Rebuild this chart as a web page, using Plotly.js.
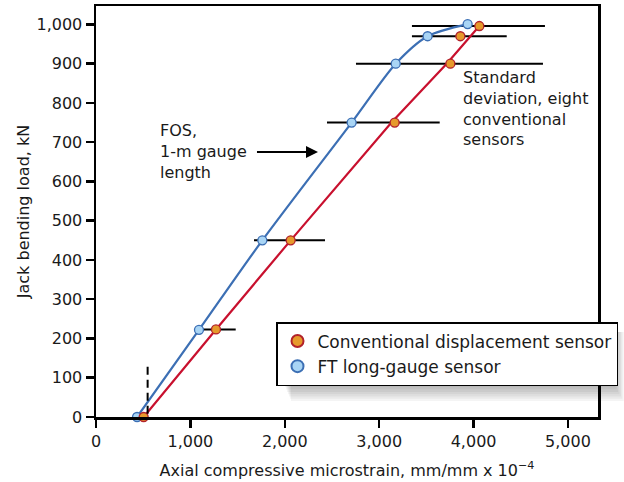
<!DOCTYPE html>
<html>
<head>
<meta charset="utf-8">
<script src="https://cdn.plot.ly/plotly-3.0.1.min.js"></script>
<style>html,body{margin:0;padding:0;background:#fff;}#chart{width:624px;height:482px;}</style>
</head>
<body>
<div id="chart"></div>
<script>
// FT long-gauge sensor (blue)
var ftX = [435, 1091, 1762, 2708, 3175, 3513, 3937];
var ftY = [0, 222, 450, 750, 900, 970, 1001];
// Conventional displacement sensor (orange markers)
var convX = [505, 1271, 2062, 3164, 3754, 3860, 4061];
var convY = [0, 223, 450, 750, 900, 970, 996];
// Fitted red line for conventional sensor
var convFitX = [505, 1271, 2062, 3130, 3715, 4061];
var convFitY = [0, 223, 450, 750, 900, 996];
// Standard deviation extents (eight conventional sensors)
var sdLow  = [null, 1095, 1674, 2447, 2754, 3347, 3347];
var sdHigh = [null, 1480, 2426, 3641, 4735, 4351, 4756];

var xTicks = [0, 1000, 2000, 3000, 4000, 5000];
var yTicks = [0, 100, 200, 300, 400, 500, 600, 700, 800, 900, 1000];

var FONT = "DejaVu Sans, Liberation Sans, sans-serif";
var TXT = "#1a1a1a";
var BLUE = "#3c6fb4", BLUE_FILL = "#a9d5f5";
var RED = "#c8102e", ORANGE_FILL = "#e69a2c", ORANGE_EDGE = "#b2222a";

var plus = convX.map(function(x, i){ return sdHigh[i] == null ? 0 : sdHigh[i] - x; });
var minus = convX.map(function(x, i){ return sdLow[i] == null ? 0 : x - sdLow[i]; });

var traces = [
  { x: convX, y: convY, mode: "markers", marker: {opacity: 0, size: 1},
    error_x: {type: "data", symmetric: false, array: plus, arrayminus: minus,
              color: "#000", thickness: 2, width: 0},
    showlegend: false, hoverinfo: "skip", cliponaxis: false },
  { x: convFitX, y: convFitY, mode: "lines", line: {color: RED, width: 2.2},
    showlegend: false, hoverinfo: "skip", cliponaxis: false },
  { x: ftX, y: ftY, mode: "lines", line: {color: BLUE, width: 2.2, shape: "spline", smoothing: 0.8},
    showlegend: false, hoverinfo: "skip", cliponaxis: false },
  { x: ftX, y: ftY, mode: "markers", name: "FT long-gauge sensor", legendrank: 2, legendgroup: "ft",
    marker: {size: 9, color: BLUE_FILL, line: {color: BLUE, width: 1.3}}, cliponaxis: false },
  { x: convX, y: convY, mode: "markers", name: "Conventional displacement sensor", legendrank: 1, legendgroup: "conv",
    marker: {size: 9, color: ORANGE_FILL, line: {color: ORANGE_EDGE, width: 1.3}}, cliponaxis: false }
];

function px2paperX(p){ return (p - 96) / 502; }
function px2paperY(p){ return (417 - p) / 411; }

var shadows = [];
for (var i = 1; i <= 7; i++) {
  shadows.push({type: "rect", xref: "paper", yref: "paper", layer: "above",
    x0: px2paperX(284 + i), x1: px2paperX(614 + i*1.4),
    y0: px2paperY(385 + i*2.3), y1: px2paperY(332),
    fillcolor: "rgba(0,0,0,0.045)", line: {width: 0}});
}

var layout = {
  width: 624, height: 482,
  margin: {l: 96, r: 26, t: 6, b: 65},
  paper_bgcolor: "#fff", plot_bgcolor: "#fff",
  font: {family: FONT, size: 16, color: TXT},
  xaxis: {range: [0, 5318], tickvals: xTicks, tickformat: ",d",
    showgrid: false, zeroline: false, showline: true, linecolor: "#000", linewidth: 2.5,
    mirror: true, ticks: "outside", ticklen: 8, tickwidth: 2.5, tickcolor: "#000",
    tickfont: {size: 16, family: FONT, color: TXT},
    title: {text: "Axial compressive microstrain, mm/mm x 10<sup>−4</sup>", standoff: 15,
            font: {size: 16, family: FONT, color: TXT}}},
  yaxis: {range: [0, 1047], tickvals: yTicks, tickformat: ",d",
    showgrid: false, zeroline: false, showline: true, linecolor: "#000", linewidth: 2.5,
    mirror: true, ticks: "outside", ticklen: 8, tickwidth: 2.5, tickcolor: "#000",
    tickfont: {size: 16, family: FONT, color: TXT},
    title: {text: "Jack bending load, kN", standoff: 3,
            font: {size: 16, family: FONT, color: TXT}}},
  legend: {x: px2paperX(276), y: px2paperY(322), xanchor: "left", yanchor: "top",
    bgcolor: "#fff", bordercolor: "#000", borderwidth: 1.5,
    font: {size: 17, family: FONT, color: TXT}, itemsizing: "constant",
    tracegroupgap: 0, traceorder: "grouped"},
  shapes: shadows.concat([
    {type: "line", xref: "x", yref: "y", x0: 547, x1: 547, y0: 8, y1: 140,
     line: {color: "#000", width: 2, dash: "8px,5px"}}
  ]),
  annotations: [
    {xref: "x", yref: "y", x: 657, y: 760, xanchor: "left", yanchor: "top", align: "left",
     showarrow: false, text: "FOS,<br>1-m gauge<br>length",
     font: {size: 16, family: FONT, color: TXT}},
    {xref: "x", yref: "y", axref: "x", ayref: "y", x: 2352, y: 675, ax: 1663, ay: 675,
     showarrow: true, arrowhead: 2, arrowsize: 1.2, arrowwidth: 2, arrowcolor: "#000", text: " "},
    {xref: "x", yref: "y", x: 3867, y: 894, xanchor: "left", yanchor: "top", align: "left",
     showarrow: false, text: "Standard<br>deviation, eight<br>conventional<br>sensors",
     font: {size: 16, family: FONT, color: TXT}}
  ]
};

Plotly.newPlot("chart", traces, layout, {displayModeBar: false, staticPlot: true});
</script>
</body>
</html>
